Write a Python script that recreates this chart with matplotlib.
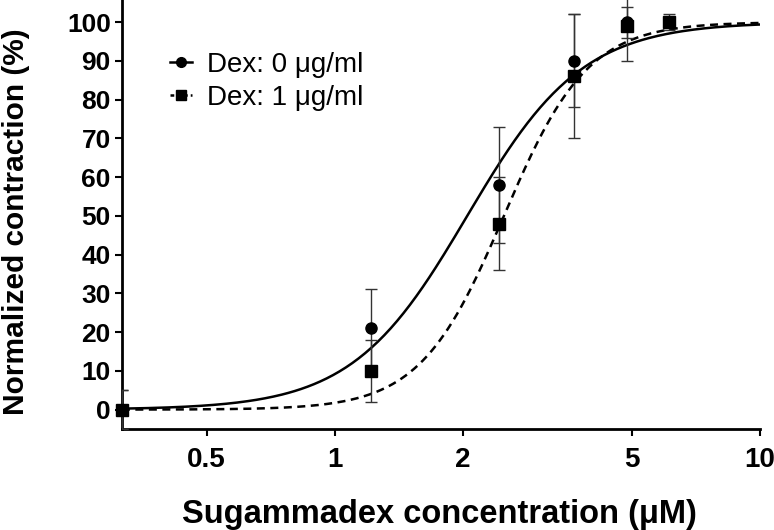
import numpy as np
import matplotlib
matplotlib.use("Agg")
from matplotlib import pyplot as plt

plt.rcParams['font.family'] = ['Liberation Sans', 'DejaVu Sans']

# measured points
x_dex0 = [0.316, 1.22, 2.44, 3.66, 4.88]
y_dex0 = [0, 21, 58, 90, 100]
e_dex0 = [5, 10, 15, 12, 4]

x_dex1 = [0.316, 1.22, 2.44, 3.66, 4.88, 6.1]
y_dex1 = [0, 10, 48, 86, 99, 100]
e_dex1 = [5, 8, 12, 16, 9, 2]

# Hill fit parameters (EC50 in uM, slope)
fit_dex0 = (2.05, 3.2)
fit_dex1 = (2.5, 4.4)

xticks = [0.5, 1, 2, 5, 10]
xticklabels = ["0.5", "1", "2", "5", "10"]
yticks = list(range(0, 101, 10))


def hill(x, ec50, n):
    return 100.0 / (1.0 + (ec50 / x) ** n)


fig = plt.figure(figsize=(7.74, 5.30), dpi=100)
ax = fig.add_axes([0.1576, 0.1906, 0.8243, 0.8094])

xs = np.logspace(np.log10(0.316), 1, 300)
ax.plot(xs, hill(xs, *fit_dex0), color="black", lw=1.8, zorder=2)
ax.plot(xs, hill(xs, *fit_dex1), color="black", lw=1.8, ls=(0, (3.2, 2.2)), zorder=2)

ax.errorbar(x_dex0, y_dex0, yerr=e_dex0, fmt="none", ecolor="#333333",
            elinewidth=1, capsize=4.5, capthick=1, zorder=3)
ax.errorbar(x_dex1, y_dex1, yerr=e_dex1, fmt="none", ecolor="#333333",
            elinewidth=1, capsize=4.5, capthick=1, zorder=3)
ax.plot(x_dex0, y_dex0, "o", color="black", ms=8, clip_on=False, zorder=4)
ax.plot(x_dex1, y_dex1, "s", color="black", ms=8, clip_on=False, zorder=4)

# legend handles
h0, = ax.plot([], [], color="black", lw=1.8, marker="o", ms=7)
h1, = ax.plot([], [], color="black", lw=1.8, ls=(0, (1.5, 1.2)), marker="s", ms=7)
fig.legend([h0, h1], ["Dex: 0 \u03bcg/ml", "Dex: 1 \u03bcg/ml"], loc="upper left",
           bbox_to_anchor=(0.2196, 0.902), frameon=False, fontsize=20,
           borderpad=0, borderaxespad=0,
           handlelength=0.8, handletextpad=0.55, labelspacing=0.26)

ax.set_xscale("log")
ax.set_xlim(10 ** -0.5, 10)
ax.set_ylim(-5, 105.7)
ax.set_xticks(xticks)
ax.set_xticklabels(xticklabels)
ax.xaxis.set_minor_locator(matplotlib.ticker.NullLocator())
ax.set_yticks(yticks)

for s in ["top", "right"]:
    ax.spines[s].set_visible(False)
for s in ["left", "bottom"]:
    ax.spines[s].set_linewidth(2)
ax.tick_params(direction="out", width=1.5, length=5)
ax.tick_params(axis="x", labelsize=20, pad=8)
ax.tick_params(axis="y", labelsize=19, pad=3)
for lab in ax.get_xticklabels() + ax.get_yticklabels():
    lab.set_fontweight("bold")

ax.set_xlabel("Sugammadex concentration (\u03bcM)", fontsize=23.5, fontweight="bold",
              va="center")
ax.xaxis.set_label_coords(0.498, -0.2)
ax.set_ylabel("Normalized contraction (%)", fontsize=21.5, fontweight="bold",
              va="center")
ax.yaxis.set_label_coords(-0.166, 0.483)

fig.savefig("out.png", dpi=100)
